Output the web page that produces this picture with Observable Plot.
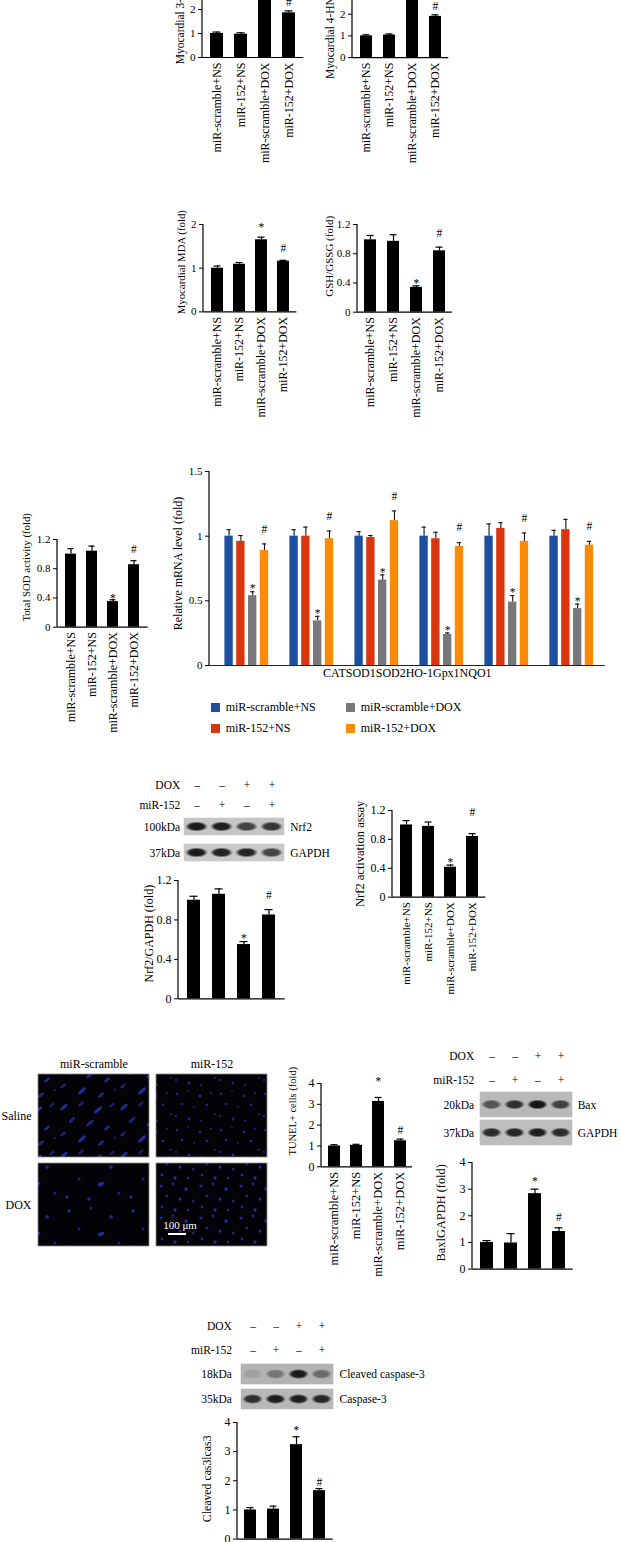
<!DOCTYPE html>
<html>
<head>
<meta charset="utf-8">
<script src="https://cdn.jsdelivr.net/npm/d3@7"></script>
<script src="https://cdn.jsdelivr.net/npm/@observablehq/plot@0.6"></script>
<style>
  html, body { margin: 0; padding: 0; background: #fff; }
  #fig { position: relative; width: 621px; height: 1542px; overflow: hidden; background: #fff;
         font-family: "Liberation Serif", "DejaVu Serif", serif; color: #000; }
  #fig > svg { position: absolute; max-width: none; }
  #fig svg text { font-family: "Liberation Serif", "DejaVu Serif", serif; }
  .lg { position: absolute; display: flex; align-items: center; height: 12px; font-size: 12px; white-space: nowrap; }
  .lg i { display: inline-block; width: 9px; height: 9px; margin-right: 6px; }
</style>
</head>
<body>
<svg width="0" height="0" style="position:absolute">
  <defs>
    <radialGradient id="band" cx="50%" cy="50%" r="50%">
      <stop offset="0" stop-color="#0e0e0e"/>
      <stop offset="0.62" stop-color="#161616"/>
      <stop offset="1" stop-color="#161616" stop-opacity="0"/>
    </radialGradient>
    <pattern id="nucA" width="60" height="48" patternUnits="userSpaceOnUse">
      <rect width="60" height="48" fill="#020207"/>
      <g fill="#2434b4">
        <ellipse cx="7" cy="6" rx="4.5" ry="1.6" transform="rotate(-40 7 6)" opacity="0.8"/>
        <ellipse cx="24" cy="3" rx="3.5" ry="1.4" transform="rotate(-45 24 3)" opacity="0.6"/>
        <ellipse cx="41" cy="9" rx="5" ry="1.7" transform="rotate(-40 41 9)" opacity="0.85"/>
        <ellipse cx="55" cy="4" rx="3" ry="1.3" transform="rotate(-35 55 4)" opacity="0.6"/>
        <ellipse cx="15" cy="19" rx="4" ry="1.5" transform="rotate(-42 15 19)" opacity="0.75"/>
        <ellipse cx="33" cy="22" rx="4.5" ry="1.6" transform="rotate(-38 33 22)" opacity="0.7"/>
        <ellipse cx="50" cy="27" rx="3.5" ry="1.4" transform="rotate(-45 50 27)" opacity="0.8"/>
        <ellipse cx="6" cy="33" rx="3.5" ry="1.4" transform="rotate(-40 6 33)" opacity="0.65"/>
        <ellipse cx="25" cy="38" rx="5" ry="1.7" transform="rotate(-42 25 38)" opacity="0.8"/>
        <ellipse cx="44" cy="42" rx="3.8" ry="1.5" transform="rotate(-40 44 42)" opacity="0.7"/>
        <circle cx="58" cy="37" r="1.1" opacity="0.6"/>
      </g>
    </pattern>
    <pattern id="nucB" width="44" height="36" patternUnits="userSpaceOnUse">
      <rect width="44" height="36" fill="#020207"/>
      <g fill="#2232b2">
        <circle cx="4" cy="5" r="1.2" opacity="0.8"/>
        <circle cx="15" cy="2" r="1" opacity="0.6"/>
        <circle cx="27" cy="7" r="1.4" opacity="0.8"/>
        <circle cx="38" cy="4" r="1.1" opacity="0.7"/>
        <circle cx="9" cy="15" r="1.3" opacity="0.75"/>
        <circle cx="21" cy="18" r="1.1" opacity="0.6"/>
        <circle cx="34" cy="16" r="1.3" opacity="0.8"/>
        <circle cx="42" cy="25" r="1.1" opacity="0.7"/>
        <circle cx="3" cy="27" r="1.2" opacity="0.6"/>
        <circle cx="16" cy="30" r="1.4" opacity="0.8"/>
        <circle cx="28" cy="32" r="1.1" opacity="0.7"/>
      </g>
    </pattern>
    <pattern id="nucC" width="64" height="50" patternUnits="userSpaceOnUse">
      <rect width="64" height="50" fill="#020207"/>
      <g fill="#2434b4">
        <circle cx="8" cy="8" r="1.7" opacity="0.8"/>
        <circle cx="30" cy="5" r="1.5" opacity="0.7"/>
        <circle cx="50" cy="14" r="1.8" opacity="0.8"/>
        <circle cx="18" cy="26" r="1.6" opacity="0.7"/>
        <ellipse cx="40" cy="31" rx="3.5" ry="1.8" transform="rotate(-25 40 31)" opacity="0.85"/>
        <circle cx="58" cy="40" r="1.5" opacity="0.7"/>
        <circle cx="6" cy="44" r="1.6" opacity="0.75"/>
        <circle cx="28" cy="46" r="1.7" opacity="0.8"/>
      </g>
    </pattern>
    <pattern id="nucD" width="40" height="32" patternUnits="userSpaceOnUse">
      <rect width="40" height="32" fill="#020207"/>
      <g fill="#2535b6">
        <circle cx="4" cy="5" r="1.6" opacity="0.8"/>
        <circle cx="16" cy="3" r="1.4" opacity="0.7"/>
        <circle cx="29" cy="8" r="1.7" opacity="0.85"/>
        <circle cx="10" cy="15" r="1.5" opacity="0.7"/>
        <circle cx="23" cy="18" r="1.6" opacity="0.8"/>
        <circle cx="36" cy="20" r="1.4" opacity="0.7"/>
        <circle cx="5" cy="26" r="1.5" opacity="0.75"/>
        <circle cx="18" cy="29" r="1.7" opacity="0.8"/>
        <circle cx="31" cy="29" r="1.4" opacity="0.7"/>
      </g>
    </pattern>
  </defs>
</svg>
<div id="fig"></div>
<script>
// ---------------- data ----------------
const groups = ["miR-scramble+NS", "miR-152+NS", "miR-scramble+DOX", "miR-152+DOX"];
const sigMarks = ["", "", "*", "#"];

const nt3Values = [1.0, 0.97, 3.1, 1.86];
const nt3Errors = [0.06, 0.06, 0.2, 0.08];
const hneValues = [1.0, 1.04, 2.9, 1.9];
const hneErrors = [0.05, 0.05, 0.15, 0.07];
const mdaValues = [1.0, 1.09, 1.65, 1.16];
const mdaErrors = [0.05, 0.04, 0.06, 0.02];
const gshValues = [0.99, 0.97, 0.34, 0.84];
const gshErrors = [0.06, 0.09, 0.02, 0.05];
const sodValues = [1.0, 1.04, 0.35, 0.855];
const sodErrors = [0.075, 0.07, 0.025, 0.055];
const nrf2GapdhValues = [1.0, 1.06, 0.55, 0.85];
const nrf2GapdhErrors = [0.04, 0.055, 0.03, 0.055];
const nrf2ActValues = [1.0, 0.98, 0.415, 0.84];
const nrf2ActErrors = [0.06, 0.06, 0.03, 0.04];
const tunelValues = [1.0, 1.03, 3.14, 1.25];
const tunelErrors = [0.06, 0.05, 0.19, 0.08];
const baxValues = [1.0, 0.98, 2.83, 1.41];
const baxErrors = [0.07, 0.35, 0.17, 0.14];
const cas3Values = [1.0, 1.03, 3.24, 1.66];
const cas3Errors = [0.08, 0.1, 0.27, 0.07];

// mRNA panel
const genes = ["CAT", "SOD1", "SOD2", "HO-1", "Gpx1", "NQO1"];
const seriesColors = ["#1c4fa0", "#d9360e", "#77787b", "#fb8a06"];
const mrnaScrNS = [1, 1, 1, 1, 1, 1];
const mrnaScrNSErr = [0.05, 0.05, 0.035, 0.07, 0.095, 0.045];
const mrna152NS = [0.96, 1.0, 0.99, 0.98, 1.06, 1.05];
const mrna152NSErr = [0.045, 0.07, 0.015, 0.05, 0.045, 0.08];
const mrnaScrDOX = [0.54, 0.345, 0.66, 0.24, 0.49, 0.44];
const mrnaScrDOXErr = [0.03, 0.035, 0.04, 0.012, 0.05, 0.035];
const mrna152DOX = [0.89, 0.98, 1.12, 0.92, 0.96, 0.93];
const mrna152DOXErr = [0.05, 0.06, 0.075, 0.03, 0.065, 0.03];

// western blots
const lanes = ["1", "2", "3", "4"];
const doxSigns = ["–", "–", "+", "+"];
const mirSigns = ["–", "+", "–", "+"];
const nrf2Band = [0.95, 0.93, 0.72, 0.8];
const nrf2GapdhBand = [0.95, 0.9, 0.9, 0.72];
const baxBand = [0.6, 0.82, 0.98, 0.72];
const baxGapdhBand = [0.85, 0.88, 0.92, 0.85];
const cleavedCas3Band = [0.12, 0.38, 0.95, 0.45];
const cas3Band = [0.82, 0.92, 0.92, 0.88];

// microscopy tiles
const tileCols = ["miR-scramble", "miR-152"];
const tileRows = ["Saline", "DOX"];

// ---------------- helpers ----------------
const fig = document.getElementById("fig");
const FONT = "Liberation Serif";
const baseStyle = "font-family: 'Liberation Serif', 'DejaVu Serif', serif; font-size: 11px; background: transparent; overflow: visible; color: #000;";
const fmt = d => String(d);

function mount(svg, left, top) {
  svg.style.position = "absolute";
  svg.style.left = left + "px";
  svg.style.top = top + "px";
  fig.appendChild(svg);
}

const yAxisLine = (index, scales, values, dims) => {
  const l = document.createElementNS("http://www.w3.org/2000/svg", "line");
  l.setAttribute("x1", dims.marginLeft);
  l.setAttribute("x2", dims.marginLeft);
  l.setAttribute("y1", dims.marginTop);
  l.setAttribute("y2", dims.height - dims.marginBottom);
  l.setAttribute("stroke", "#000");
  l.setAttribute("stroke-width", 1.2);
  return l;
};

function yLabel(text, o, fs) {
  return Plot.text([text], {frameAnchor: "left", textAnchor: "middle", lineAnchor: "middle", rotate: -90,
    dx: -o.labelOff, dy: o.labelDy || 0, fontSize: fs, fontFamily: FONT});
}

function barChart(o) {
  const mL = 80, mR = 10, mT = 30, mB = o.xLabels ? 125 : 6;
  const rows = groups.map((c, i) => ({c, v: o.values[i], e: o.errors[i], m: sigMarks[i]}));
  const top = d => d.v + d.e;
  const marks = [
    Plot.barY(rows, {x: "c", y: "v", fill: "#000"}),
    Plot.ruleX(rows, {x: "c", y1: "v", y2: top, stroke: "#000", strokeWidth: 1.2}),
    Plot.tickY(rows, {x: "c", y: top, stroke: "#000", strokeWidth: 1.2, insetLeft: 2.5, insetRight: 2.5}),
    Plot.text(rows.filter(d => d.m === "*"), {x: "c", y: top, text: "m", dy: -(o.starGap - 2), fontSize: 11.5, fontFamily: FONT}),
    Plot.text(rows.filter(d => d.m === "#"), {x: "c", y: top, text: "m", dy: -o.hashGap, fontSize: 11.5, fontFamily: FONT}),
    Plot.ruleY([0], {stroke: "#000", strokeWidth: 1.2}),
    Plot.axisY({ticks: o.ticks, tickFormat: fmt, tickSize: 4, tickPadding: 3, label: null, fontSize: o.tickFs || 11, fontFamily: FONT}),
    yAxisLine,
    yLabel(o.ylabel, o, o.labelFs)
  ];
  if (o.xLabels) marks.push(Plot.axisX({tickRotate: -90, tickSize: 0, tickPadding: 5, label: null, fontSize: o.xFs || 12, fontFamily: FONT}));
  const xOpts = {type: "band", domain: groups, paddingInner: 0.47, paddingOuter: 0.3};
  if (!o.xLabels) xOpts.axis = null;
  const svg = Plot.plot({
    width: (o.x1 - o.x0) + mL + mR,
    height: (o.y0 - o.yTop) + mT + mB,
    marginLeft: mL, marginRight: mR, marginTop: mT, marginBottom: mB,
    style: baseStyle,
    x: xOpts,
    y: {domain: o.domain},
    marks
  });
  mount(svg, o.x0 - mL, o.yTop - mT);
}

function mrnaChart(o) {
  const mL = 80, mR = 10, mT = 20, mB = 30;
  const series = [
    {v: mrnaScrNS, e: mrnaScrNSErr, m: ""},
    {v: mrna152NS, e: mrna152NSErr, m: ""},
    {v: mrnaScrDOX, e: mrnaScrDOXErr, m: "*"},
    {v: mrna152DOX, e: mrna152DOXErr, m: "#"}
  ];
  const step = (o.x1 - o.x0) / genes.length;
  const lead = 12.4, pitch = 11.8, barW = 9.3;
  const top = d => d.v + d.e;
  const marks = [];
  series.forEach((s, i) => {
    const rows = genes.map((g, j) => ({g, v: s.v[j], e: s.e[j], m: s.m}));
    const left = lead + i * pitch;
    const right = step - left - barW;
    const dx = left + barW / 2 - step / 2;
    marks.push(
      Plot.barY(rows, {x: "g", y: "v", fill: seriesColors[i], insetLeft: left, insetRight: right}),
      Plot.ruleX(rows, {x: "g", y1: "v", y2: top, stroke: "#111", strokeWidth: 1.1, dx}),
      Plot.tickY(rows, {x: "g", y: top, stroke: "#111", strokeWidth: 1.1, insetLeft: left + 2, insetRight: right + 2})
    );
    if (s.m) marks.push(Plot.text(rows, {x: "g", y: top, text: "m", dx, dy: s.m === "*" ? -3 : -15, fontSize: 11.5, fontFamily: FONT}));
  });
  marks.push(
    Plot.ruleY([0], {stroke: "#222", strokeWidth: 1.2}),
    Plot.axisY({ticks: [0, 0.5, 1, 1.5], tickFormat: fmt, tickSize: 4, tickPadding: 3, label: null, fontSize: 11, fontFamily: FONT}),
    yAxisLine,
    yLabel(o.ylabel, o, 12),
    Plot.text([genes.join("")], {frameAnchor: "bottom", textAnchor: "middle", dy: 12, fontSize: 12, fontFamily: FONT})
  );
  const svg = Plot.plot({
    width: (o.x1 - o.x0) + mL + mR,
    height: (o.y0 - o.yTop) + mT + mB,
    marginLeft: mL, marginRight: mR, marginTop: mT, marginBottom: mB,
    style: baseStyle,
    x: {type: "band", domain: genes, padding: 0, axis: null},
    y: {domain: [0, 1.5]},
    marks
  });
  mount(svg, o.x0 - mL, o.yTop - mT);
}

function blotPanel(o) {
  const fs = o.fs || 11.5;
  const mL = 80, mR = 130;
  const signData = [
    ...doxSigns.map((s, i) => ({row: "DOX", lane: lanes[i], s})),
    ...mirSigns.map((s, i) => ({row: "miR-152", lane: lanes[i], s}))
  ];
  const head = Plot.plot({
    width: (o.x1 - o.x0) + mL + mR,
    height: (o.headY1 - o.headY0),
    marginLeft: mL, marginRight: mR, marginTop: 0, marginBottom: 0,
    style: baseStyle,
    x: {type: "band", domain: lanes, padding: 0, axis: null},
    y: {type: "band", domain: ["DOX", "miR-152"], padding: 0, axis: null},
    marks: [
      Plot.text(signData, {x: "lane", y: "row", text: "s", fontSize: fs, fontFamily: FONT, fill: "#000"}),
      Plot.text(["DOX", "miR-152"], {y: d => d, frameAnchor: "left", textAnchor: "end", dx: -o.gapL, fontSize: fs, fontFamily: FONT})
    ]
  });
  mount(head, o.x0 - mL, o.headY0);
  const cells = o.names.flatMap((n, r) => lanes.map((l, i) => ({row: n, lane: l, a: o.bands[r][i], bg: o.bg[r]})));
  const blot = Plot.plot({
    width: (o.x1 - o.x0) + mL + mR,
    height: (o.blotY1 - o.blotY0),
    marginLeft: mL, marginRight: mR, marginTop: 0, marginBottom: 0,
    style: baseStyle,
    x: {type: "band", domain: lanes, padding: 0, axis: null},
    y: {type: "band", domain: o.names, paddingInner: o.pad, paddingOuter: 0, axis: null},
    color: {type: "identity"},
    opacity: {type: "identity"},
    marks: [
      Plot.cell(cells, {x: "lane", y: "row", fill: "bg", inset: -0.3}),
      Plot.cell(cells, {x: "lane", y: "row", fill: "url(#band)", fillOpacity: "a",
        insetLeft: 1, insetRight: 1, insetTop: o.bandInset, insetBottom: o.bandInset}),
      Plot.text(o.kda, {y: (d, i) => o.names[i], frameAnchor: "left", textAnchor: "end", dx: -o.gapL, fontSize: fs, fontFamily: FONT}),
      Plot.text(o.names, {y: d => d, frameAnchor: "right", textAnchor: "start", dx: o.gapR, fontSize: fs, fontFamily: FONT})
    ]
  });
  mount(blot, o.x0 - mL, o.blotY0);
}

function microscopy(o) {
  const mL = 40, mR = 5, mT = 20, mB = 5;
  const pats = {"Saline|miR-scramble": "url(#nucA)", "Saline|miR-152": "url(#nucB)",
                "DOX|miR-scramble": "url(#nucC)", "DOX|miR-152": "url(#nucD)"};
  const tiles = tileRows.flatMap(r => tileCols.map(c => ({row: r, col: c, fill: pats[r + "|" + c]})));
  const bar = [{row: "DOX", col: "miR-152"}];
  const svg = Plot.plot({
    width: (o.x1 - o.x0) + mL + mR,
    height: (o.y1 - o.y0) + mT + mB,
    marginLeft: mL, marginRight: mR, marginTop: mT, marginBottom: mB,
    style: baseStyle,
    x: {type: "band", domain: tileCols, paddingInner: 0.062, paddingOuter: 0},
    y: {type: "band", domain: tileRows, paddingInner: 0.073, paddingOuter: 0},
    color: {type: "identity"},
    marks: [
      Plot.cell(tiles, {x: "col", y: "row", fill: "fill", stroke: "#8a8a8a", strokeWidth: 0.8}),
      Plot.cell(bar, {x: "col", y: "row", fill: "#fff", insetLeft: 12, insetRight: 81, insetTop: 70, insetBottom: 11}),
      Plot.text(bar, {x: "col", y: "row", text: () => "100 μm", fill: "#fff", dx: -32, dy: 20, fontSize: 11, fontFamily: FONT}),
      Plot.axisX({anchor: "top", tickSize: 0, tickPadding: 5, label: null, fontSize: 12, fontFamily: FONT}),
      Plot.axisY({tickSize: 0, tickPadding: 6, label: null, fontSize: 12, fontFamily: FONT})
    ]
  });
  mount(svg, o.x0 - mL, o.y0 - mT);
}

// ---------------- panels ----------------
barChart({values: nt3Values, errors: nt3Errors, x0: 201.7, x1: 303, y0: 57, yTop: -39, domain: [0, 4], ticks: [0, 1, 2, 3, 4],
  ylabel: "Myocardial 3-NT (fold)", labelOff: 22, labelDy: 0, labelFs: 11.5, starGap: 6, hashGap: 9, xLabels: true, xFs: 12, tickFs: 11});
barChart({values: hneValues, errors: hneErrors, x0: 351.7, x1: 448, y0: 56.7, yTop: -8.4, domain: [0, 3], ticks: [0, 1, 2, 3],
  ylabel: "Myocardial 4-HNE (fold)", labelOff: 22, labelDy: -5, labelFs: 11.5, starGap: 6, hashGap: 9, xLabels: true, xFs: 12, tickFs: 11});
barChart({values: mdaValues, errors: mdaErrors, x0: 203.3, x1: 296.7, y0: 311.7, yTop: 224.3, domain: [0, 2], ticks: [0, 1, 2],
  ylabel: "Myocardial MDA (fold)", labelOff: 22, labelDy: -6, labelFs: 10.8, starGap: 12, hashGap: 12, xLabels: true, xFs: 12, tickFs: 11});
barChart({values: gshValues, errors: gshErrors, x0: 356.7, x1: 451.7, y0: 311.7, yTop: 224, domain: [0, 1.2], ticks: [0, 0.4, 0.8, 1.2],
  ylabel: "GSH/GSSG (fold)", labelOff: 28, labelDy: -12, labelFs: 11, starGap: 5, hashGap: 13.5, xLabels: true, xFs: 12, tickFs: 11});
barChart({values: sodValues, errors: sodErrors, x0: 57.3, x1: 148, y0: 626.7, yTop: 539, domain: [0, 1.2], ticks: [0, 0.4, 0.8, 1.2],
  ylabel: "Total SOD activity (fold)", labelOff: 31, labelDy: -16, labelFs: 10.8, starGap: 3, hashGap: 11, xLabels: true, xFs: 12, tickFs: 11});
mrnaChart({x0: 209.3, x1: 605, y0: 665, yTop: 471, ylabel: "Relative mRNA level (fold)", labelOff: 31.6, labelDy: -5});
barChart({values: nrf2GapdhValues, errors: nrf2GapdhErrors, x0: 178.3, x1: 285, y0: 998.3, yTop: 880, domain: [0, 1.2], ticks: [0, 0.4, 0.8, 1.2],
  ylabel: "Nrf2/GAPDH (fold)", labelOff: 29, labelDy: -6, labelFs: 12, starGap: 5, hashGap: 14.5, xLabels: false, tickFs: 12});
barChart({values: nrf2ActValues, errors: nrf2ActErrors, x0: 391.7, x1: 485, y0: 896.7, yTop: 810, domain: [0, 1.2], ticks: [0, 0.4, 0.8, 1.2],
  ylabel: "Nrf2 activation assay", labelOff: 32.6, labelDy: 0, labelFs: 12.5, starGap: 4.5, hashGap: 21, xLabels: true, xFs: 11, tickFs: 12});
barChart({values: tunelValues, errors: tunelErrors, x0: 320.7, x1: 411.7, y0: 1166, yTop: 1082.7, domain: [0, 4], ticks: [0, 1, 2, 3, 4],
  ylabel: "TUNEL+ cells (fold)", labelOff: 28.7, labelDy: -14, labelFs: 10.5, starGap: 17.7, hashGap: 8.3, xLabels: true, xFs: 12.5, tickFs: 12});
barChart({values: baxValues, errors: baxErrors, x0: 472.3, x1: 573, y0: 1268.3, yTop: 1161.7, domain: [0, 4], ticks: [0, 1, 2, 3, 4],
  ylabel: "BaxlGAPDH (fold)", labelOff: 31, labelDy: -3, labelFs: 12.4, starGap: 10, hashGap: 10, xLabels: false, tickFs: 12});
barChart({values: cas3Values, errors: cas3Errors, x0: 237.3, x1: 333, y0: 1538.3, yTop: 1421.7, domain: [0, 4], ticks: [0, 1, 2, 3, 4],
  ylabel: "Cleaved cas3lcas3", labelOff: 30.6, labelDy: -2, labelFs: 11.8, starGap: 8.7, hashGap: 6.3, xLabels: false, tickFs: 12});

blotPanel({x0: 184.3, x1: 285, headY0: 775, headY1: 815, blotY0: 818.3, blotY1: 861.7, pad: 0.36,
  names: ["Nrf2", "GAPDH"], kda: ["100kDa", "37kDa"], bands: [nrf2Band, nrf2GapdhBand], bg: ["#c6c6c6", "#c9c9c9"],
  bandInset: 3.5, gapL: 4.3, gapR: 5, fs: 11.5});
blotPanel({x0: 478.3, x1: 574, headY0: 1044, headY1: 1092, blotY0: 1090.7, blotY1: 1146, pad: 0.09,
  names: ["Bax", "GAPDH"], kda: ["20kDa", "37kDa"], bands: [baxBand, baxGapdhBand], bg: ["#b9b9b9", "#bdbdbd"],
  bandInset: 7.5, gapL: 4.3, gapR: 3.5, fs: 11.5});
blotPanel({x0: 239.3, x1: 335, headY0: 1314, headY1: 1362, blotY0: 1363.3, blotY1: 1409, pad: 0.22,
  names: ["Cleaved caspase-3", "Caspase-3"], kda: ["18kDa", "35kDa"], bands: [cleavedCas3Band, cas3Band], bg: ["#b3b3b3", "#b8b8b8"],
  bandInset: 5, gapL: 7.6, gapR: 4.3, fs: 11.5});

microscopy({x0: 36.7, x1: 266.7, y0: 1073.3, y1: 1246.7});

// legend for mRNA panel
const legendItems = [
  {label: groups[0], color: seriesColors[0], x: 210.7, y: 701.2},
  {label: groups[2], color: seriesColors[2], x: 345.7, y: 701.2},
  {label: groups[1], color: seriesColors[1], x: 210.7, y: 722},
  {label: groups[3], color: seriesColors[3], x: 345.7, y: 722}
];
legendItems.forEach(d => {
  const el = document.createElement("div");
  el.className = "lg";
  el.style.left = d.x + "px";
  el.style.top = d.y + "px";
  const sw = document.createElement("i");
  sw.style.background = d.color;
  el.appendChild(sw);
  el.appendChild(document.createTextNode(d.label));
  fig.appendChild(el);
});
</script>
</body>
</html>
